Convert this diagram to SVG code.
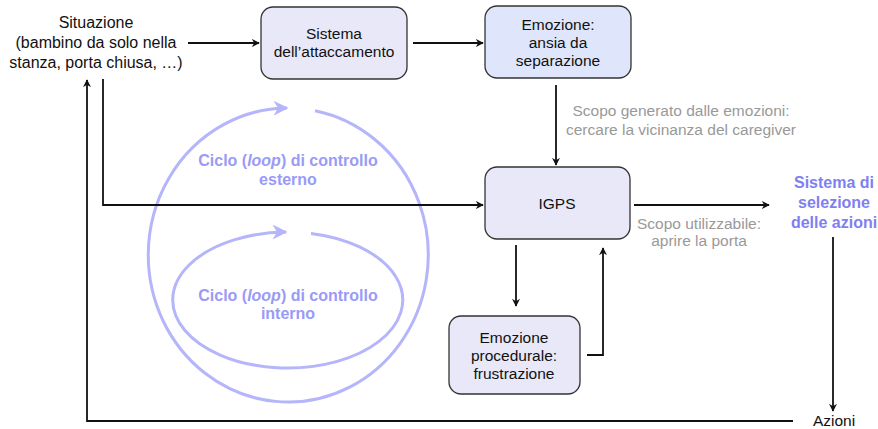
<svg xmlns="http://www.w3.org/2000/svg" width="878" height="429" viewBox="0 0 878 429">
<style>
  .box { stroke: #333333; stroke-width: 1.3; }
  .t { font-family: "Liberation Sans", Arial, sans-serif; font-size: 15.5px; fill: #111111; text-anchor: middle; }
  .sit { font-size: 16px; }
  .grey { fill: #999999; }
  .blue { font-weight: bold; font-size: 16px; fill: #9a9af7; }
  .sel { font-weight: bold; font-size: 16px; fill: #7f7ff2; }
  .edge { fill: none; stroke: #111111; stroke-width: 1.8; marker-end: url(#ah); }
  .loop { fill: none; stroke: #b5b5fb; stroke-width: 3; marker-end: url(#bh); }
</style>
<defs>
  <marker id="ah" viewBox="0 0 10 10" refX="9" refY="5" markerWidth="8" markerHeight="8" markerUnits="userSpaceOnUse" orient="auto">
    <path d="M0,0 L10,5 L0,10 L3,5 z" fill="#111111"/>
  </marker>
  <marker id="bh" viewBox="0 0 10 10" refX="9" refY="5" markerWidth="5" markerHeight="5" orient="auto">
    <path d="M0,0 L10,5 L0,10 L3,5 z" fill="#b5b5fb"/>
  </marker>
</defs>
<rect width="878" height="429" fill="#ffffff"/>

<g id="loops">
  <path class="loop" d="M315,110.7 A140,147 0 1,1 287,108"/>
  <path class="loop" d="M311,233.4 A115,68 0 1,1 286,232"/>
  <text class="t blue" x="288" y="166">Ciclo (<tspan font-style="italic">loop</tspan>) di controllo</text>
  <text class="t blue" x="288" y="185">esterno</text>
  <text class="t blue" x="288" y="301">Ciclo (<tspan font-style="italic">loop</tspan>) di controllo</text>
  <text class="t blue" x="288" y="319">interno</text>
</g>

<g id="connectors">
  <path class="edge" d="M188,43 H259"/>
  <path class="edge" d="M413,43 H483"/>
  <path class="edge" d="M556,85 V165"/>
  <path class="edge" d="M103,79 V205 H483"/>
  <path class="edge" d="M634,205 H769"/>
  <path class="edge" d="M516,245 V306"/>
  <path class="edge" d="M587,355 H603 V248"/>
  <path class="edge" d="M833,237 V411"/>
  <path class="edge" d="M793,421 H87 V80"/>
  <text class="t grey" x="681" y="116">Scopo generato dalle emozioni:</text>
  <text class="t grey" x="681" y="135">cercare la vicinanza del caregiver</text>
  <text class="t grey" x="699" y="229">Scopo utilizzabile:</text>
  <text class="t grey" x="699" y="246">aprire la porta</text>
</g>

<g id="situazione">
  <text class="t sit" x="96" y="28">Situazione</text>
  <text class="t sit" x="96" y="48">(bambino da solo nella</text>
  <text class="t sit" x="96" y="68">stanza, porta chiusa, …)</text>
</g>

<g id="sistema-attaccamento">
  <rect class="box" x="261" y="7" width="146" height="72" rx="12" fill="#e8e8f9"/>
  <text class="t" x="334" y="39">Sistema</text>
  <text class="t" x="334" y="57">dell’attaccamento</text>
</g>

<g id="emozione-ansia">
  <rect class="box" x="485" y="6" width="146" height="72" rx="12" fill="#dfe6fb"/>
  <text class="t" x="558" y="30">Emozione:</text>
  <text class="t" x="558" y="48">ansia da</text>
  <text class="t" x="558" y="66">separazione</text>
</g>

<g id="igps">
  <rect class="box" x="485" y="167" width="145" height="72" rx="12" fill="#e8e8f9"/>
  <text class="t" x="557" y="209">IGPS</text>
</g>

<g id="emozione-procedurale">
  <rect class="box" x="449" y="316" width="131" height="78" rx="12" fill="#e8e8f9"/>
  <text class="t" x="514" y="343">Emozione</text>
  <text class="t" x="514" y="361">procedurale:</text>
  <text class="t" x="514" y="379">frustrazione</text>
</g>

<g id="selezione-azioni">
  <text class="t sel" x="834" y="188">Sistema di</text>
  <text class="t sel" x="834" y="208">selezione</text>
  <text class="t sel" x="834" y="228">delle azioni</text>
</g>

<g id="azioni">
  <text class="t" x="834" y="426">Azioni</text>
</g>
</svg>
